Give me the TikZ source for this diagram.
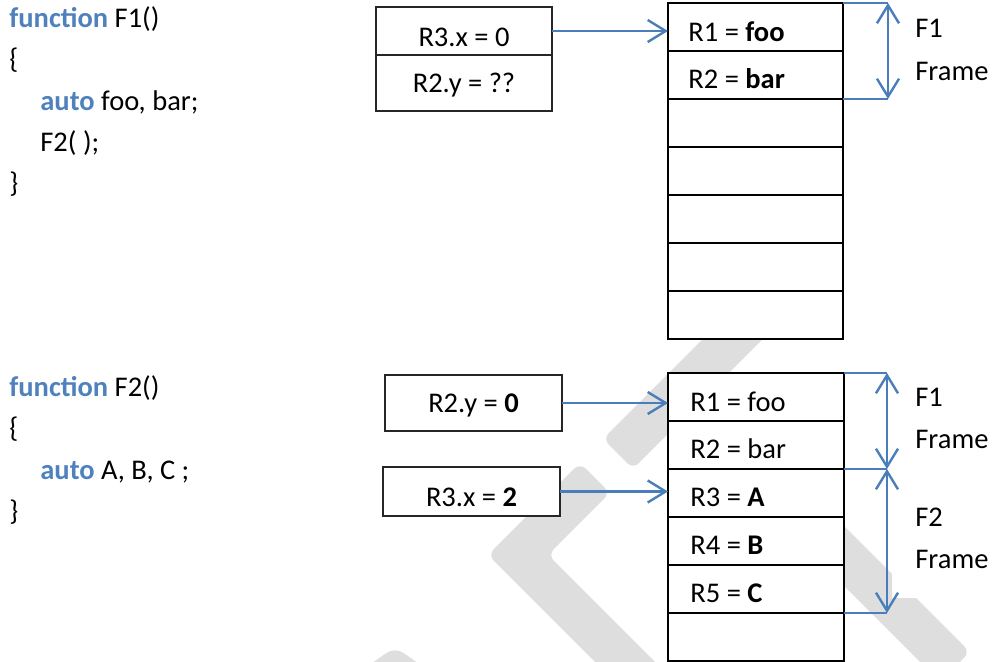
\documentclass[tikz,border=0pt]{standalone}
\usepackage{fontspec}
\setmainfont{Carlito}
\usetikzlibrary{arrows.meta,calc}
\definecolor{kwblue}{RGB}{79,129,189}
\definecolor{lnblue}{RGB}{74,126,187}
\definecolor{wmgray}{RGB}{222,222,222}
\newcommand\kwd[1]{\textcolor{kwblue}{\textbf{#1}}}
\begin{document}
\begin{tikzpicture}[x=0.5pt,y=-0.5pt,
  font=\fontsize{14.25}{16}\selectfont,
  cell/.style={draw=black, line width=0.85pt, fill=white, minimum width=87.5pt, minimum height=24pt, inner sep=0pt, outer sep=0pt, anchor=north west},
  vbox/.style={draw=black!85, line width=0.9pt, fill=white, inner sep=0pt, outer sep=0pt, anchor=north west},
  txt/.style={anchor=base west, inner sep=0pt},
  ctxt/.style={anchor=base, inner sep=0pt},
  link/.style={draw=lnblue, line width=1.2pt, -{Straight Barb[length=9pt,width=11pt]}},
  span/.style={draw=lnblue, line width=1.2pt, {Straight Barb[length=9pt,width=11pt]}-{Straight Barb[length=9pt,width=11pt]}},
  tick/.style={draw=lnblue, line width=1.2pt}]
\useasboundingbox (0,0) rectangle (993,662);
% watermark
\begin{scope}
\clip (0,0) rectangle (993,662);
\fill[wmgray, rounded corners=4pt] (603,439) -- (785,257) -- (815,287) -- (633,469) -- cycle;
\fill[wmgray, rounded corners=4pt] (580,463) -- (488,555) -- (645,712) -- (705,712) -- (548,555) -- (610,493) -- cycle;
\fill[wmgray, rounded corners=4pt] (685,427) -- (715,397) -- (970,652) -- (940,682) -- cycle;
\fill[wmgray, rounded corners=5pt] (355,675) -- (395,647) -- (435,675) -- cycle;
\end{scope}
\fill[white] (892,482) rectangle (993,598);
% code F1
\node[txt] (c1) at (9,28) {\kwd{function} F1()};
\node[txt] (c2) at (9,69) {\{};
\node[txt] (c3) at (40,111) {\kwd{auto} foo, bar;};
\node[txt] (c4) at (40,152) {F2( );};
\node[txt] (c5) at (9,193) {\}};
% code F2
\node[txt] (d1) at (9,397) {\kwd{function} F2()};
\node[txt] (d2) at (9,438) {\{};
\node[txt] (d3) at (40,480) {\kwd{auto} A, B, C ;};
\node[txt] (d4) at (9,521) {\}};
% top registers
\node[vbox, minimum width=88pt, minimum height=24pt] (a1) at (376,7) {};
\node[vbox, minimum width=88pt, minimum height=28pt] (a2) at (376,55) {};
\node[ctxt] (a1t) at (464,47) {R3.x = 0};
\node[ctxt] (a2t) at (464,93) {R2.y = ??};
% top stack
\foreach \i in {0,...,6} {\node[cell] (t\i) at (668,{3+48*\i}) {};}
\node[txt] (t0t) at (688,42) {R1 = \textbf{foo}};
\node[txt] (t1t) at (688,89) {R2 = \textbf{bar}};
\draw[link] (a1.east) -- (a1.east -| t0.west);
\coordinate (f1a) at ($(t0.north east)+(45,0)$);
\coordinate (f1b) at ($(t1.south east)+(45,0)$);
\draw[tick] (t0.north east) -- (f1a);
\draw[tick] (t1.south east) -- (f1b);
\draw[span] (f1a) -- (f1b);
\node[txt] (f1l) at (915,38) {F1};
\node[txt] (f1m) at (915,81) {Frame};
% bottom registers
\node[vbox, minimum width=88.5pt, minimum height=28pt] (b1) at (385,375) {};
\node[vbox, minimum width=88.5pt, minimum height=24.5pt] (b2) at (383,467) {};
\node[ctxt] (b1t) at (473.5,413) {R2.y = \textbf{0}};
\node[ctxt] (b2t) at (471.5,507) {R3.x = \textbf{2}};
% bottom stack
\foreach \i in {0,...,5} {\node[cell, minimum width=88pt] (s\i) at (668,{373+48*\i}) {};}
\node[txt] (s0t) at (690,412) {R1 = foo};
\node[txt] (s1t) at (690,459) {R2 = bar};
\node[txt] (s2t) at (690,507) {R3 = \textbf{A}};
\node[txt] (s3t) at (690,555) {R4 = \textbf{B}};
\node[txt] (s4t) at (690,603) {R5 = \textbf{C}};
\draw[link] (b1.east) -- (b1.east -| s0.west);
\draw[link] (b2.east) -- (b2.east -| s2.west);
\coordinate (g1) at ($(s0.north east)+(43,0)$);
\coordinate (g2) at ($(s1.south east)+(43,0)$);
\coordinate (g3) at ($(s4.south east)+(43,0)$);
\draw[tick] (s0.north east) -- (g1);
\draw[tick] (s1.south east) -- (g2);
\draw[tick] (s4.south east) -- (g3);
\draw[span] (g1) -- (g2);
\draw[span] (g2) -- (g3);
\node[txt] (g1l) at (915,407) {F1};
\node[txt] (g1m) at (915,449) {Frame};
\node[txt] (g2l) at (915,527) {F2};
\node[txt] (g2m) at (915,569) {Frame};
\end{tikzpicture}
\end{document}
